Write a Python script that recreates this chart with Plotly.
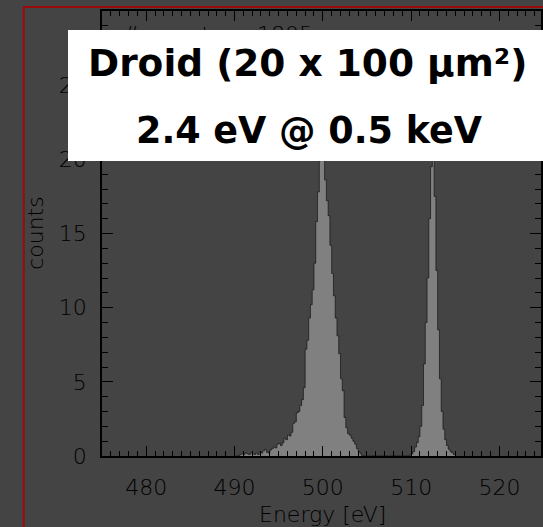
import numpy as np
import plotly.graph_objects as go

# ---- data ----
bin_first_center = 490.1   # eV
bin_width = 0.2            # eV
counts = [
    0, 0, 0, 0.1, 0.15, 0.1, 0.2, 0.15, 0.1, 0.2,
    0.15, 0.1, 0.2, 0.1, 0.3, 0.2, 0.35, 0.45, 0.25, 0.2,
    0.4, 0.5, 0.6, 0.55, 0.8, 0.85, 0.7, 0.9, 1.2, 1.1,
    1.4, 1.35, 1.6, 2.2, 2.3, 2.9, 3.0, 3.4, 3.8, 4.6,
    7.2, 7.8, 9.3, 10.2, 11.2, 13.0, 15.8, 17.8, 19.9, 23.0,
    20.5, 18.6, 17.2, 16.2, 14.2, 12.3, 10.8, 9.3, 8.1, 6.9,
    5.2, 4.4, 2.6, 1.9, 1.5, 1.4, 1.2, 1.0, 0.8, 0.5,
    0.3, 0.15, 0, 0, 0, 0, 0, 0, 0, 0,
    0, 0, 0, 0, 0, 0, 0, 0, 0, 0,
    0, 0, 0, 0, 0, 0, 0, 0, 0, 0.05,
    0.15, 0.3, 0.6, 0.9, 1.3, 2.0, 3.4, 6.2, 9.0, 12.0,
    16.0, 19.5, 23.5, 17.5, 12.5, 8.5, 5.2, 3.0, 1.8, 1.1,
    0.7, 0.45, 0.3, 0.2, 0.1, 0,
]
energies = bin_first_center + bin_width * np.arange(len(counts))

x_range = [475, 524.7]
y_range = [0, 30]
x_ticks = [480, 490, 500, 510, 520]
y_ticks = [0, 5, 10, 15, 20, 25, 30]
x_title = "Energy [eV]"
y_title = "counts"
events_text = "# events:\u00a0\u00a0\u00a0\u00a01805"
title_line1 = "Droid (20 x 100 \u03bcm\u00b2)"
title_line2 = "2.4 eV @ 0.5 keV"

# ---- layout geometry (pixels) ----
W, H = 543, 527
L, T = 101.7, 11.0
PB = 455.6  # plot bottom pixel
R = 0
B = H - PB
PW = W - L - R
PH = PB - T


def px(xp):
    return (xp - L) / PW


def py(yp):
    return (PB - yp) / PH


BG = "#444444"
INK = "#000000"
thin_font = dict(family="DejaVu Sans", size=22, color=INK, weight=200)

fig = go.Figure()
fig.add_trace(go.Scatter(
    x=energies, y=counts, mode="lines", line_shape="hvh",
    line=dict(color="rgba(0,0,0,0.55)", width=1),
    fill="tozeroy", fillcolor="#808080",
    hoverinfo="skip", showlegend=False,
))

axis_common = dict(
    showline=True, linecolor="black", linewidth=1.5, mirror="ticks",
    ticks="inside", tickcolor="black", tickwidth=1,
    showgrid=False, zeroline=False, tickfont=thin_font,
)

fig.update_layout(
    width=W, height=H, autosize=False,
    margin=dict(l=L, r=R, t=T, b=B, pad=0),
    paper_bgcolor=BG, plot_bgcolor=BG,
    xaxis=dict(range=x_range, tickvals=x_ticks, ticklen=10,
               minor=dict(dtick=1, tick0=475, ticklen=5, ticks="inside",
                          tickcolor="black", tickwidth=1, showgrid=False),
               ticklabelstandoff=11, **axis_common),
    yaxis=dict(range=y_range, tickvals=y_ticks, ticklen=11,
               minor=dict(dtick=1, ticklen=6, ticks="inside",
                          tickcolor="black", tickwidth=1, showgrid=False),
               ticklabelstandoff=9, **axis_common),
    shapes=[
        dict(type="rect", xref="paper", yref="paper",
             x0=px(23), x1=px(580), y0=py(7), y1=py(600),
             line=dict(color="#9a0a0a", width=2), fillcolor="rgba(0,0,0,0)",
             layer="below"),
    ],
)

annos = [
    dict(text=x_title, xref="paper", yref="paper", x=px(323), y=py(514.5),
         xanchor="center", yanchor="middle", showarrow=False, font=thin_font),
    dict(text=y_title, xref="paper", yref="paper", x=px(35), y=py(233),
         xanchor="center", yanchor="middle", showarrow=False, textangle=-90,
         font=thin_font),
    dict(text=events_text, xref="paper", yref="paper", x=px(120), y=py(34),
         xanchor="left", yanchor="middle", showarrow=False, font=thin_font),
    # white label box
    dict(text=" ", xref="paper", yref="paper", x=px(68), y=py(30),
         xanchor="left", yanchor="top", showarrow=False,
         width=480, height=131, bgcolor="white", borderpad=0, borderwidth=0,
         font=dict(size=10)),
    dict(text=title_line1, xref="paper", yref="paper", x=px(308), y=py(63),
         xanchor="center", yanchor="middle", showarrow=False,
         font=dict(family="DejaVu Sans", size=37.5, color="black", weight="bold")),
    dict(text=title_line2, xref="paper", yref="paper", x=px(310), y=py(130),
         xanchor="center", yanchor="middle", showarrow=False,
         font=dict(family="DejaVu Sans", size=36.5, color="black", weight="bold")),
]
fig.update_layout(annotations=annos)

fig.write_html("out.html")
